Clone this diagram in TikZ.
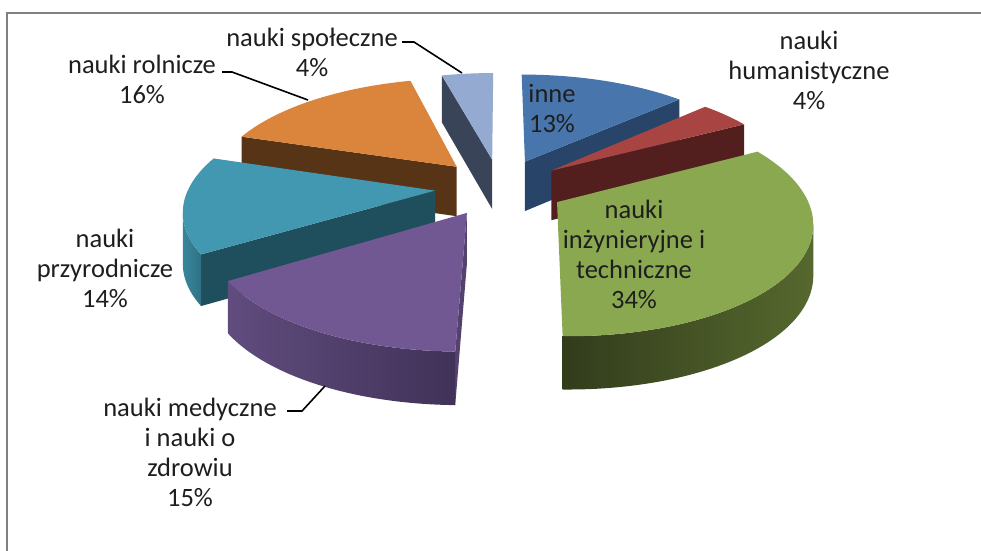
\documentclass[tikz,border=0pt]{standalone}
\usepackage{fontspec}
\setmainfont{Carlito}
\definecolor{spolTop}{RGB}{148,170,208}
\definecolor{spolSide}{RGB}{58,68,88}
\definecolor{inneTop}{RGB}{72,118,172}
\definecolor{inneSide}{RGB}{40,68,104}
\definecolor{humTop}{RGB}{168,68,66}
\definecolor{humSide}{RGB}{82,31,30}
\definecolor{inzTop}{RGB}{138,168,80}
\definecolor{inzSideL}{RGB}{50,60,28}
\definecolor{inzSideR}{RGB}{86,104,46}
\definecolor{medTop}{RGB}{114,88,146}
\definecolor{medSideL}{RGB}{96,76,126}
\definecolor{medSideR}{RGB}{64,50,88}
\definecolor{medRad}{RGB}{84,66,110}
\definecolor{przTop}{RGB}{65,152,176}
\definecolor{przSide}{RGB}{56,134,156}
\definecolor{przRad}{RGB}{31,78,92}
\definecolor{rolTop}{RGB}{218,132,60}
\definecolor{rolSide}{RGB}{88,52,22}
\definecolor{txt}{RGB}{30,30,30}
\definecolor{frameGray}{RGB}{128,128,128}
\newcommand{\SetApex}[1]{\pgfmathsetmacro{\ue}{0.265*sin(#1)}\pgfmathsetmacro{\we}{0.265*cos(#1)}}
\newcommand{\TopFace}[3]{\fill[#3] ({pxx(\ue,\we)},{pyy(\ue,\we)}) -- plot[domain=#1:#2,samples=60,variable=\ang] ({pxx(\ue+sin(\ang),\we+cos(\ang))},{pyy(\ue+sin(\ang),\we+cos(\ang))}) -- cycle;}
\newcommand{\RadFace}[2]{\fill[#2] ({pxx(\ue,\we)},{pyy(\ue,\we)}) -- ({pxx(\ue+sin(#1),\we+cos(#1))},{pyy(\ue+sin(#1),\we+cos(#1))}) -- ({pxx(\ue+sin(#1),\we+cos(#1))},{pyy(\ue+sin(#1),\we+cos(#1))+phh(\we+cos(#1))}) -- ({pxx(\ue,\we)},{pyy(\ue,\we)+phh(\we)}) -- cycle;}
\newcommand{\SideFace}[3]{\shade[#3] plot[domain=#1:#2,samples=60,variable=\ang] ({pxx(\ue+sin(\ang),\we+cos(\ang))},{pyy(\ue+sin(\ang),\we+cos(\ang))}) -- plot[domain=#2:#1,samples=60,variable=\ang] ({pxx(\ue+sin(\ang),\we+cos(\ang))},{pyy(\ue+sin(\ang),\we+cos(\ang))+phh(\we+cos(\ang))}) -- cycle;}
\begin{document}
\begin{tikzpicture}[x=1pt,y=-1pt,
  declare function={
    pxx(\uu,\ww)=500+246*\uu/(1+0.156*\ww);
    pyy(\uu,\ww)=187-108*\ww/(1+0.156*\ww);
    phh(\ww)=50/(1+0.054*\ww);
  },
  lbl/.style={align=center, inner sep=0pt, font=\fontsize{26.5}{30}\selectfont, text=txt},
  leader/.style={draw=black, line width=1.6pt},
  frameline/.style={draw=frameGray, line width=2pt}
]
\useasboundingbox (0,0) rectangle (981,550);
\fill[white] (0,0) rectangle (981,550);
\draw[frameline] (7,552) -- (7,13) -- (983,13);

% nauki spoleczne (345.6 - 360)
\SetApex{352.8}
\RadFace{345.6}{spolSide}
\TopFace{345.6}{360}{spolTop}
% inne (0 - 46.8)
\SetApex{23.4}
\RadFace{46.8}{inneSide}
\TopFace{0}{46.8}{inneTop}
% nauki rolnicze (288 - 345.6)
\SetApex{316.8}
\RadFace{288}{rolSide}
\TopFace{288}{345.6}{rolTop}
% nauki humanistyczne (46.8 - 61.2)
\SetApex{54}
\RadFace{61.2}{humSide}
\TopFace{46.8}{61.2}{humTop}
% nauki przyrodnicze (237.6 - 288)
\SetApex{262.8}
\RadFace{237.6}{przRad}
\SideFace{237.6}{258.6}{left color=przSide, right color=przSide!85!black}
\TopFace{237.6}{288}{przTop}
% nauki inzynieryjne (61.2 - 181)
\SetApex{121.1}
\SideFace{101.3}{181}{left color=inzSideL, right color=inzSideR}
\TopFace{61.2}{181}{inzTop}
% nauki medyczne (181 - 237.6)
\SetApex{209.3}
\RadFace{181}{medRad}
\SideFace{181}{237.6}{left color=medSideL, right color=medSideR}
\TopFace{181}{237.6}{medTop}

% labels
\node[lbl] (spolL) at (312,52) {nauki społeczne\\4\%};
\node[lbl] (rolL) at (142,79) {nauki rolnicze\\16\%};
\node[lbl] (przL) at (105,268) {nauki\\przyrodnicze\\14\%};
\node[lbl] (medL) at (190,452) {nauki medyczne\\i nauki o\\zdrowiu\\15\%};
\node[lbl] (inneL) at (552,108) {inne\\13\%};
\node[lbl] (humL) at (809,70) {nauki\\humanistyczne\\4\%};
\node[lbl] (inzL) at (634,254) {nauki\\inżynieryjne i\\techniczne\\34\%};

% leader lines
\coordinate (spolA) at (402,42);
\coordinate (spolB) at (414,42);
\coordinate (spolT) at (462,73);
\draw[leader] (spolA) -- (spolB) -- (spolT);
\coordinate (rolA) at (222,72);
\coordinate (rolB) at (232,72);
\coordinate (rolT) at (308,100);
\draw[leader] (rolA) -- (rolB) -- (rolT);
\coordinate (medA) at (287,411);
\coordinate (medB) at (302,411);
\coordinate (medT) at (325,386);
\draw[leader] (medA) -- (medB) -- (medT);
\end{tikzpicture}
\end{document}
